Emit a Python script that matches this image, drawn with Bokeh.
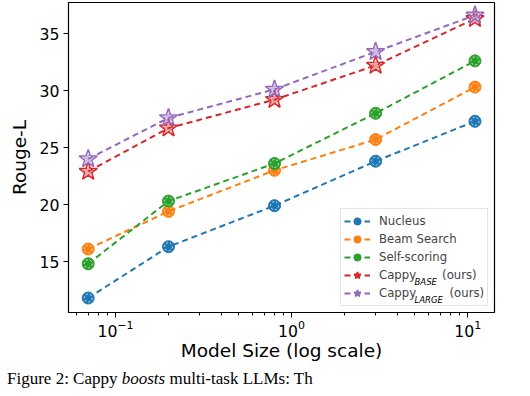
from bokeh.plotting import figure
from bokeh.models import (Range1d, LogTicker, FixedTicker, Legend, LegendItem, Label, Div)
from bokeh.layouts import column
from bokeh.embed import file_html
from bokeh.resources import INLINE

# ---- data ----
model_size = [0.07, 0.2, 0.8, 3.0, 11.0]
nucleus = [11.8, 16.3, 19.9, 23.8, 27.3]
beam_search = [16.1, 19.4, 23.0, 25.7, 30.3]
self_scoring = [14.8, 20.3, 23.6, 28.0, 32.6]
cappy_base = [22.9, 26.7, 29.2, 32.2, 36.3]
cappy_large = [24.0, 27.6, 30.1, 33.4, 36.6]
y_ticks = [15, 20, 25, 30, 35]

FONT = "DejaVu Sans"
C = ["#1f77b4", "#ff7f0e", "#2ca02c", "#d62728", "#9467bd"]

p = figure(width=514, height=367, output_backend="svg", toolbar_location=None,
           x_axis_type="log",
           x_range=Range1d(0.0541, 14.2), y_range=Range1d(10.53, 37.72),
           min_border_left=68, min_border_right=20, min_border_top=2, min_border_bottom=55)
p.xgrid.visible = False
p.ygrid.visible = False
p.outline_line_color = "black"
p.outline_line_width = 1.2

for ax in (p.xaxis[0], p.yaxis[0]):
    ax.axis_line_color = None
    ax.major_tick_line_color = "black"
    ax.minor_tick_line_color = "black"
    ax.major_tick_in = 0
    ax.major_tick_out = 5
    ax.minor_tick_in = 0
    ax.minor_tick_out = 3
    ax.major_label_text_font = FONT
    ax.major_label_text_font_size = "15.7px"
    ax.major_label_text_color = "black"
    ax.axis_label_text_font = FONT
    ax.axis_label_text_font_size = "18.5px"
    ax.axis_label_text_font_style = "normal"
    ax.axis_label_text_color = "black"

p.xaxis.ticker = LogTicker(desired_num_ticks=3, num_minor_ticks=10)
p.yaxis.ticker = FixedTicker(ticks=y_ticks)
p.yaxis.minor_tick_line_color = None
p.xaxis.axis_label = "Model Size (log scale)"
p.yaxis.axis_label = "Rouge-L"
p.yaxis.major_label_standoff = 4
p.yaxis.axis_label_standoff = 7
p.xaxis.major_label_standoff = 2
p.xaxis.axis_label_standoff = 0

items = []
series = [("Nucleus", nucleus, "circle"), ("Beam Search", beam_search, "circle"),
          ("Self-scoring", self_scoring, "circle"),
          ("Cappy" + "\u00a0" * 7 + "(ours)", cappy_base, "star"),
          ("Cappy" + "\u00a0" * 9 + "(ours)", cappy_large, "star")]
for (name, ys, mk), col in zip(series, C):
    ln = p.line(model_size, ys, line_color=col, line_width=2, line_dash="6 4")
    if mk == "circle":
        m = p.scatter(model_size, ys, marker="circle", size=12, fill_color=col,
                      line_color=col, line_width=1)
        p.scatter(model_size, ys, marker="circle", size=8, fill_color=None,
                  line_color="white", line_alpha=0.75, line_width=1, line_dash="2 2")
    else:
        m = p.scatter(model_size, ys, marker="star", size=19, fill_color=col, fill_alpha=0.45,
                      line_color=col, line_width=1.6)
        p.scatter(model_size, ys, marker="star", size=13, fill_color=None,
                  line_color="white", line_alpha=0.6, line_width=1, line_dash="2 2")
    items.append(LegendItem(label=name, renderers=[ln, m]))

legend = Legend(items=items, location=(272, 6), orientation="vertical",
                label_text_font=FONT, label_text_font_size="11.7px",
                glyph_width=26, glyph_height=18, label_height=18, label_standoff=9,
                spacing=0, padding=3, margin=0,
                border_line_color="#cccccc", border_line_width=1,
                background_fill_alpha=0)
p.add_layout(legend, "center")

# subscripts in legend
for txt, x, y in [("BASE", 346, 31), ("LARGE", 346, 12.5)]:
    p.add_layout(Label(x=x, y=y, x_units="screen", y_units="screen", text=txt,
                       text_font=FONT, text_font_size="8.5px", text_font_style="italic",
                       text_baseline="alphabetic", text_align="left", text_color="black",
                       level="overlay"))

caption = Div(text="Figure 2: Cappy <i>boosts</i> multi-task LLMs: Th",
              width=514, height=13,
              styles={"font-family": "Liberation Serif", "font-size": "17px",
                      "line-height": "13px", "white-space": "nowrap", "color": "black",
                      "padding-left": "2px"})

layout = column(p, caption, spacing=0)
open("out.html", "w").write(file_html(layout, INLINE))
